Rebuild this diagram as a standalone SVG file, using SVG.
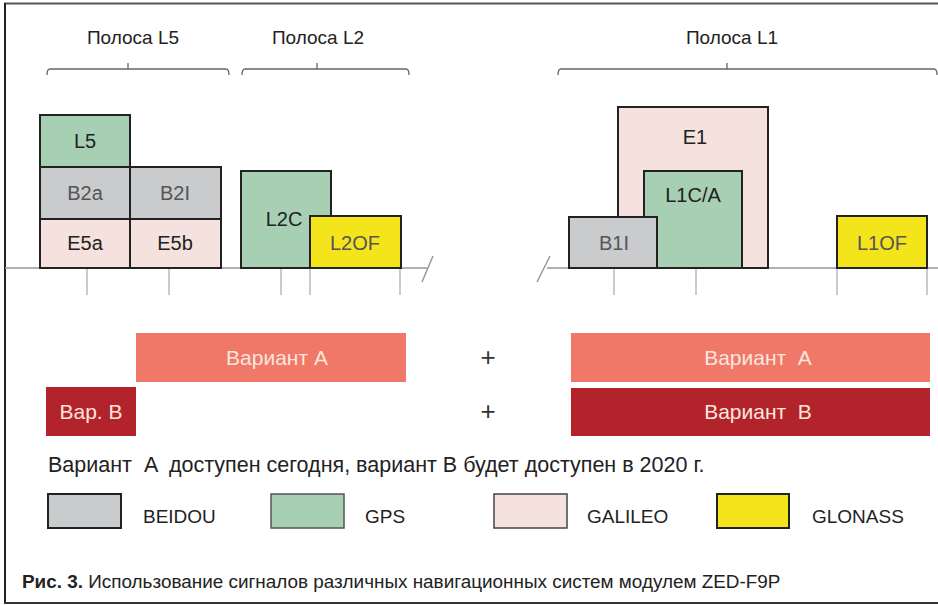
<svg xmlns="http://www.w3.org/2000/svg" width="938" height="605" viewBox="0 0 938 605">
<style>
.t{font-family:"Liberation Sans",Arial,sans-serif;}
.lbl{font-family:"Liberation Sans",Arial,sans-serif;font-size:20px;text-anchor:middle;fill:#222;}
.lg{fill:#555;}
.box{stroke:#222;stroke-width:2;}
.gps{fill:#a6cfb3;}
.bei{fill:#c9cbcd;}
.gal{fill:#f5e1dd;}
.glo{fill:#f4e41c;}
.brace{fill:none;stroke:#666;stroke-width:1.3;}
.tick{stroke:#bbb;stroke-width:1.5;}
.base{stroke:#999;stroke-width:1.5;fill:none;}
.bar{font-family:"Liberation Sans",Arial,sans-serif;font-size:21px;text-anchor:middle;fill:#fbe6de;}
.band{font-family:"Liberation Sans",Arial,sans-serif;font-size:19px;text-anchor:middle;fill:#222;}
.leg{font-family:"Liberation Sans",Arial,sans-serif;font-size:19px;fill:#222;}
</style>
<rect width="938" height="605" fill="#fff"/>
<!-- frame -->
<line x1="4" y1="3.5" x2="938" y2="3.5" stroke="#555" stroke-width="2"/>
<line x1="5" y1="3" x2="5" y2="604" stroke="#222" stroke-width="2"/>
<line x1="4" y1="603" x2="938" y2="603" stroke="#333" stroke-width="2"/>

<!-- band titles and braces -->
<g id="band-l5">
<text class="band" x="133" y="44">Полоса L5</text>
<path class="brace" d="M47,75 Q47,69 50,69 L226,69 Q229,69 229,75 M128,69 L128,63"/>
</g>
<g id="band-l2">
<text class="band" x="318" y="44">Полоса L2</text>
<path class="brace" d="M242,75 Q242,69 245,69 L406,69 Q409,69 409,75 M317,69 L317,63"/>
</g>
<g id="band-l1">
<text class="band" x="732" y="44">Полоса L1</text>
<path class="brace" d="M558,75 Q558,69 561,69 L934,69 Q937,69 937,75 M727,69 L727,63"/>
</g>

<!-- axis -->
<g id="axis">
<path class="base" d="M5,268 L427,268 M433,256 L422,282 M547,268 L938,268 M550,256 L537,282"/>
<path class="tick" d="M87,268 V295 M169,268 V295 M281,268 V295 M310,268 V295 M400,268 V295 M614,268 V295 M696,268 V295 M837,268 V295 M927,268 V295"/>
</g>

<!-- L5 band boxes -->
<g id="L5"><rect class="box gps" x="40" y="115" width="90" height="52"/><text class="lbl" x="85" y="148">L5</text></g>
<g id="B2a"><rect class="box bei" x="40" y="167" width="90" height="52"/><text class="lbl lg" x="85" y="200">B2a</text></g>
<g id="B2I"><rect class="box bei" x="130" y="167" width="91" height="52"/><text class="lbl lg" x="175" y="200">B2I</text></g>
<g id="E5a"><rect class="box gal" x="40" y="219" width="90" height="49"/><text class="lbl" x="85" y="250">E5a</text></g>
<g id="E5b"><rect class="box gal" x="130" y="219" width="91" height="49"/><text class="lbl" x="175" y="250">E5b</text></g>

<!-- L2 band -->
<g id="L2C"><rect class="box gps" x="241" y="171" width="90" height="97"/><text class="lbl" x="284" y="226">L2C</text></g>
<g id="L2OF"><rect class="box glo" x="310" y="216" width="91" height="52"/><text class="lbl lg" x="355" y="250">L2OF</text></g>

<!-- L1 band -->
<g id="E1"><rect class="box gal" x="618" y="107" width="150" height="161"/><text class="lbl" x="695" y="144">E1</text></g>
<g id="L1CA"><rect class="box gps" x="644" y="171" width="98" height="97"/><text class="lbl" x="693" y="202">L1C/A</text></g>
<g id="B1I"><rect class="box bei" x="569" y="217" width="88" height="51"/><text class="lbl lg" x="614" y="250">B1I</text></g>
<g id="L1OF"><rect class="box glo" x="837" y="216" width="90" height="52"/><text class="lbl lg" x="882" y="250">L1OF</text></g>

<!-- variants -->
<g id="varA-left"><rect x="136" y="333" width="270" height="49" fill="#f07868"/><text class="bar" x="277" y="365">Вариант A</text></g>
<g id="varB-left"><rect x="46" y="387" width="90" height="49" fill="#b3232b"/><text class="bar" x="91" y="419">Вар. B</text></g>
<g id="plus"><text class="t" x="488" y="366" font-size="26" text-anchor="middle" fill="#333">+</text><text class="t" x="488" y="420" font-size="26" text-anchor="middle" fill="#333">+</text></g>
<g id="varA-right"><rect x="571" y="333" width="359" height="49" fill="#f07868"/><text class="bar" x="758" y="365" xml:space="preserve">Вариант  A</text></g>
<g id="varB-right"><rect x="571" y="388" width="359" height="48" fill="#b3232b"/><text class="bar" x="758" y="419" xml:space="preserve">Вариант  B</text></g>

<text class="t" x="48" y="472" font-size="21.5" fill="#222" xml:space="preserve">Вариант  A  доступен сегодня, вариант В будет доступен в 2020 г.</text>

<!-- legend -->
<g id="legend-beidou"><rect class="box bei" x="48" y="494" width="73" height="34"/><text class="leg" x="143" y="523">BEIDOU</text></g>
<g id="legend-gps"><rect x="271" y="494" width="73" height="34" class="gps" stroke="#555" stroke-width="1.5"/><text class="leg" x="365" y="523">GPS</text></g>
<g id="legend-galileo"><rect x="494" y="494" width="73" height="34" class="gal" stroke="#444" stroke-width="1.5"/><text class="leg" x="587" y="523">GALILEO</text></g>
<g id="legend-glonass"><rect class="box glo" x="717" y="494" width="72" height="34"/><text class="leg" x="812" y="523">GLONASS</text></g>

<!-- caption -->
<text class="t" x="22" y="588" font-size="18.9" fill="#222"><tspan font-weight="bold">Рис. 3.</tspan> Использование сигналов различных навигационных систем модулем ZED-F9P</text>
</svg>
